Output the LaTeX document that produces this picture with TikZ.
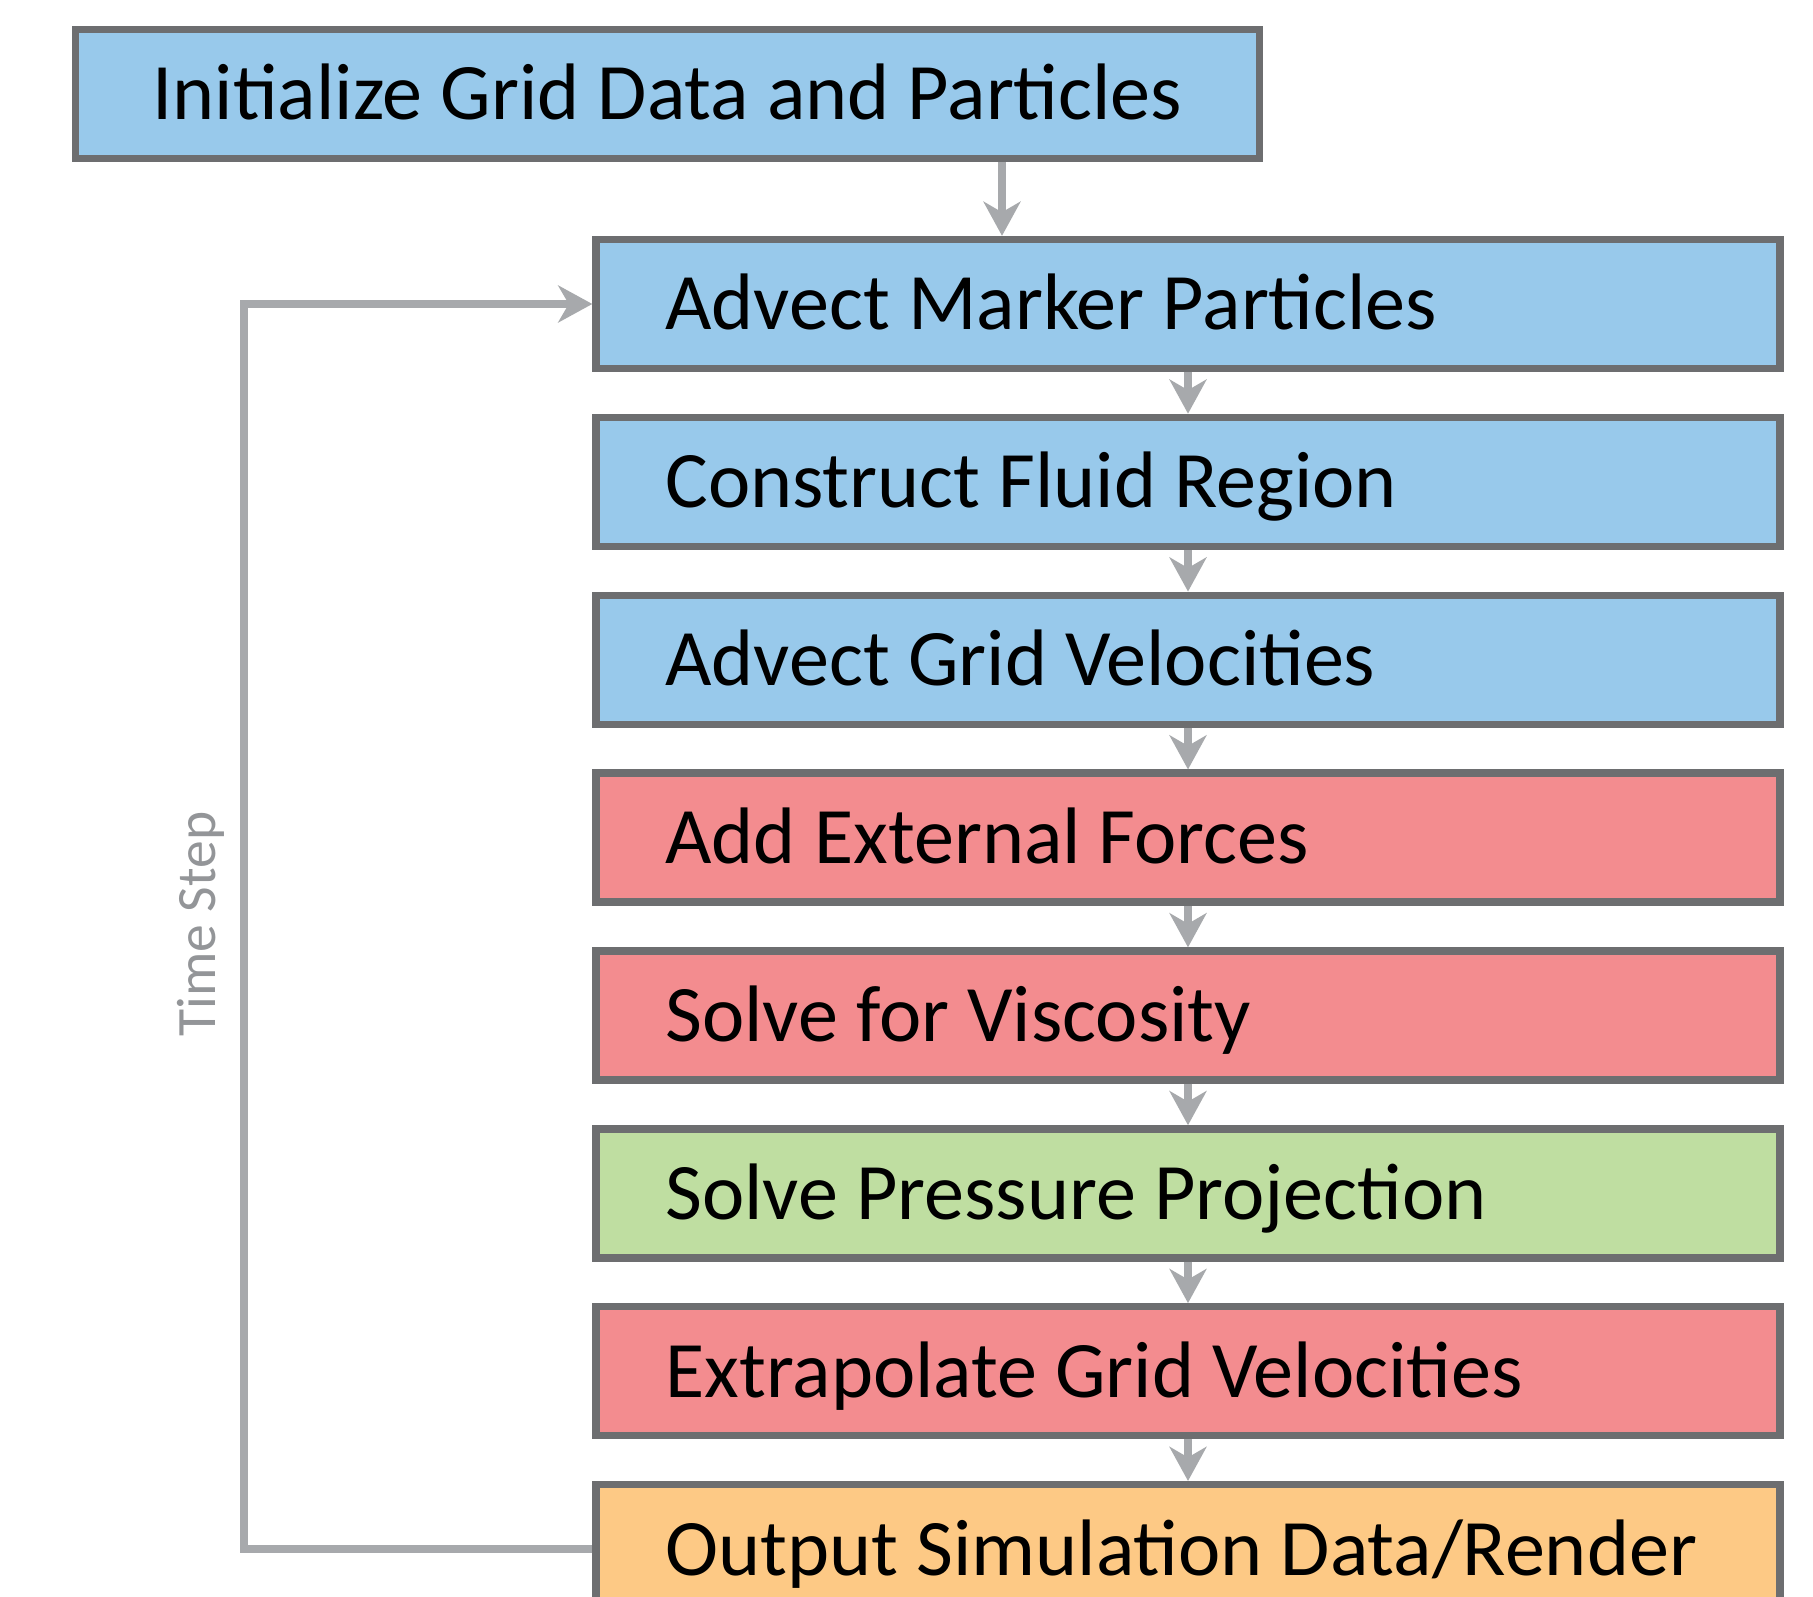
\documentclass[tikz,border=0pt]{standalone}
\usepackage{fontspec}
\setmainfont{Carlito}
\usepackage{tikz}
\usetikzlibrary{positioning}
\usetikzlibrary{arrows.meta}

\definecolor{boxline}{HTML}{6D6E70}
\definecolor{flowgray}{HTML}{A7A9AC}
\definecolor{labelgray}{HTML}{939598}
\definecolor{gridblue}{HTML}{98C9EB}
\definecolor{forcepink}{HTML}{F38C8F}
\definecolor{solvegreen}{HTML}{BFDEA1}
\definecolor{outorange}{HTML}{FDC985}

\tikzset{
  stepbox/.style={draw=boxline, line width=2.1pt, rectangle, minimum width=11.84cm,
    minimum height=1.29cm, inner ysep=0pt, font=\fontsize{22.8pt}{27pt}\selectfont,
    text height=14.7pt, text depth=0pt},
  leftbox/.style={stepbox, text width=10.45cm, align=flush left, inner xsep=0.695cm,
    execute at begin node=\hbox\bgroup, execute at end node=\egroup},
  flow/.style={->, draw=flowgray, line width=2.1pt}
}

\begin{document}
\begin{tikzpicture}[>={Stealth[length=9.7pt,width=10.5pt,inset=3pt]}, node distance=0.415cm]
  \fill[white] (0,0) rectangle (18.13,-15.97);
  \useasboundingbox (0,0) rectangle (18.13,-15.97);
  \node[stepbox, fill=gridblue] (init) at (6.675,-0.94) {Initialize Grid Data and Particles};
  \node[leftbox, fill=gridblue] (advmark) at (11.88,-3.04) {Advect Marker Particles};
  \node[leftbox, fill=gridblue, below=of advmark] (fluid) {Construct Fluid Region};
  \node[leftbox, fill=gridblue, below=of fluid] (advgrid) {Advect Grid Velocities};
  \node[leftbox, fill=forcepink, below=of advgrid] (forces) {Add External Forces};
  \node[leftbox, fill=forcepink, below=of forces] (visc) {Solve for Viscosity};
  \node[leftbox, fill=solvegreen, below=of visc] (press) {Solve Pressure Projection};
  \node[leftbox, fill=forcepink, below=of press] (extrap) {Extrapolate Grid Velocities};
  \node[leftbox, fill=outorange, below=of extrap] (output) {Output Simulation Data/Render};
  \node[rotate=90, anchor=base, text=labelgray, font=\fontsize{15.8pt}{19pt}\selectfont] (tlabel) at (2.15,-9.24) {Time Step};
  % connectors
  \coordinate (drop) at (10.02,0);
  \coordinate (loopx) at (2.44,0);
  \draw[flow] (drop |- init.south) -- (drop |- advmark.north);
  \foreach \a/\b in {advmark/fluid, fluid/advgrid, advgrid/forces, forces/visc,
                     visc/press, press/extrap, extrap/output}
    \draw[flow] (\a) -- (\b);
  % time step loop
  \draw[flow] (output.west) -- (output.west -| loopx) -- (advmark.west -| loopx) -- (advmark.west);
\end{tikzpicture}
\end{document}
